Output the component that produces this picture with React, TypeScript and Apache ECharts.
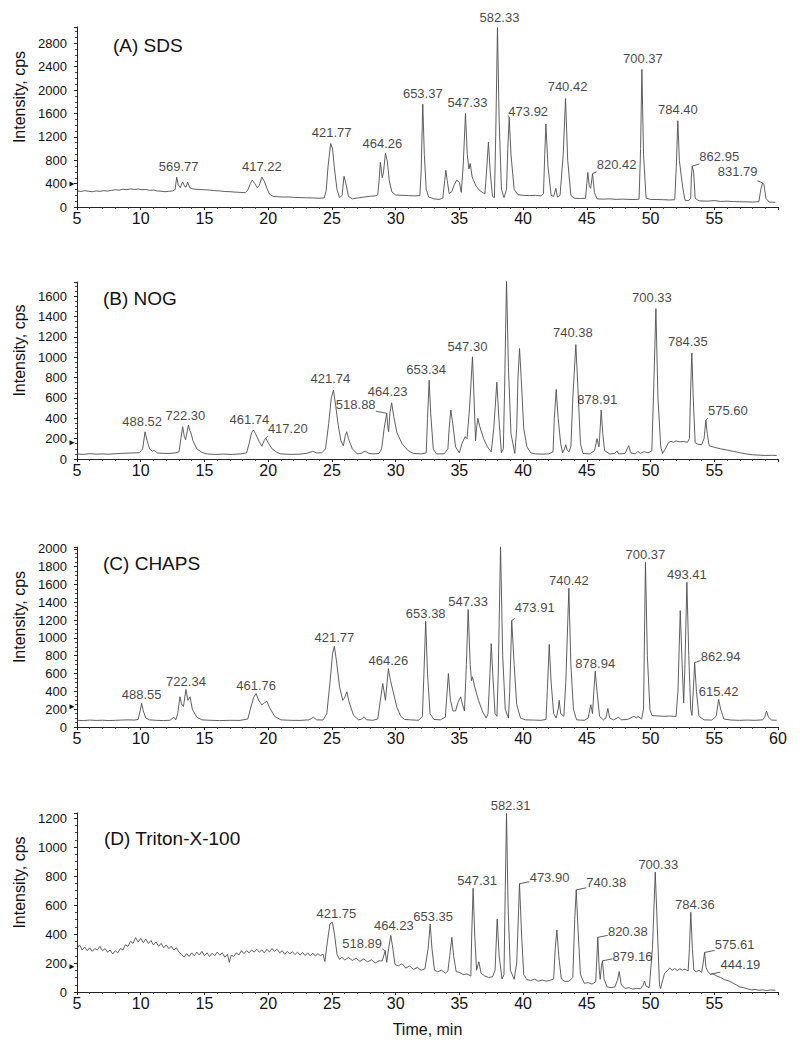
import React, { useEffect, useRef } from 'react';
import * as echarts from 'echarts';

const FONT = '"Liberation Sans", Arial, Helvetica, sans-serif';

// ---------- Data (time in min, intensity in cps) ----------
const SDS_TRACE: [number, number][] = [
  [5.0,275],[5.3,265],[5.6,280],[5.9,270],[6.2,262],[6.5,275],[6.8,268],[7.1,280],[7.4,272],[7.7,285],[8.0,295],[8.3,288],[8.6,305],[8.9,298],[9.2,310],[9.5,300],[9.8,308],[10.1,295],[10.4,300],[10.7,285],[11.0,290],[11.3,275],[11.6,270],[11.9,262],[12.2,268],[12.5,275],
  [12.7,300],[12.82,510],[12.95,380],[13.1,330],[13.29,430],[13.45,350],[13.55,340],[13.68,425],[13.85,330],[14.1,310],[14.5,300],[15.0,295],[15.4,290],[15.8,280],[16.2,275],[16.6,265],[17.0,262],[17.4,255],[17.8,250],[18.2,245],
  [18.4,290],[18.6,400],[18.75,460],[18.95,400],[19.15,330],[19.3,370],[19.5,510],[19.7,440],[19.9,320],[20.1,220],[20.4,180],[20.8,175],[21.2,170],[21.6,172],[22.0,165],[22.5,160],[23.0,158],[23.5,155],[24.0,150],[24.4,155],
  [24.55,280],[24.7,700],[24.9,1085],[25.05,1000],[25.2,650],[25.4,300],[25.6,160],[25.8,200],[25.95,525],[26.1,400],[26.3,180],[26.6,140],[27.0,155],[27.5,170],[28.0,185],[28.4,190],[28.6,210],
  [28.7,450],[28.8,765],[28.95,500],[29.05,600],[29.2,920],[29.35,780],[29.5,450],[29.7,260],[30.0,205],[30.5,200],[31.0,195],[31.5,190],[31.9,195],
  [32.0,600],[32.13,1760],[32.25,900],[32.4,300],[32.6,170],[33.0,140],[33.4,130],[33.7,150],
  [33.85,450],[33.94,628],[34.05,450],[34.2,230],[34.4,260],[34.6,380],[34.8,460],[35.0,420],[35.15,250],
  [35.3,700],[35.48,1600],[35.62,900],[35.75,650],[35.85,745],[36.0,520],[36.3,360],[36.6,280],[37.0,225],
  [37.1,500],[37.28,1110],[37.42,600],[37.6,180],[37.75,160],
  [37.85,1200],[37.99,3070],[38.12,1500],[38.3,300],[38.5,160],[38.7,300],
  [38.8,1000],[38.91,1533],[39.05,900],[39.3,300],[39.6,210],[40.0,200],[40.5,195],[41.0,200],[41.4,190],[41.6,230],
  [41.7,900],[41.79,1420],[41.95,700],[42.2,200],[42.4,180],[42.57,320],[42.7,170],[42.9,200],
  [43.15,900],[43.33,1856],[43.5,800],[43.75,200],[44.0,150],[44.5,145],[44.9,150],
  [45.0,400],[45.08,590],[45.2,350],[45.3,320],[45.45,570],[45.6,250],[45.8,140],[46.3,135],[46.8,140],[47.3,130],[47.8,135],[48.3,130],[48.8,128],[49.1,135],
  [49.22,1000],[49.32,2354],[49.45,900],[49.65,150],[50.0,130],[50.5,128],[51.0,125],[51.5,120],[51.9,125],
  [52.02,700],[52.14,1477],[52.26,800],[52.4,550],[52.55,300],[52.7,115],[53.0,110],[53.15,150],
  [53.2,500],[53.27,700],[53.38,600],[53.5,150],[53.8,105],[54.5,100],[55.0,110],[55.5,95],[56.0,100],[56.5,92],[57.0,90],[57.5,88],[58.0,85],[58.5,90],
  [58.65,300],[58.79,413],[58.9,380],[59.05,150],[59.3,85],[59.8,80],
];

const NOG_TRACE: [number, number][] = [
  [5.0,50],[5.5,45],[6.0,52],[6.5,48],[7.0,50],[7.5,47],[8.0,52],[8.5,55],[9.0,58],[9.5,60],[9.9,62],[10.15,100],[10.34,268],[10.5,180],[10.7,100],[10.9,75],[11.05,85],[11.3,60],[11.8,55],[12.3,55],[12.7,60],[13.0,70],
  [13.15,200],[13.29,317],[13.42,220],[13.52,190],[13.74,333],[13.85,280],[13.92,265],[14.1,180],[14.4,100],[14.8,65],[15.2,50],[15.8,45],[16.5,48],[17.2,45],[17.8,50],[18.3,60],
  [18.5,150],[18.7,260],[18.84,285],[19.0,250],[19.3,170],[19.5,125],[19.7,185],[19.81,205],[20.0,160],[20.3,100],[20.7,65],[21.0,50],[21.8,45],[22.5,48],[23.0,55],[23.5,75],[23.8,60],[24.2,60],[24.5,100],
  [24.75,350],[24.95,600],[25.12,677],[25.3,520],[25.5,330],[25.7,180],[25.9,130],[26.05,230],[26.16,268],[26.3,200],[26.6,100],[27.0,50],[27.3,55],[27.6,78],[27.9,55],[28.3,50],[28.7,55],[28.9,100],
  [29.1,300],[29.3,450],[29.4,300],[29.45,268],[29.55,450],[29.69,553],[29.85,420],[30.1,260],[30.5,150],[31.0,80],[31.4,55],[32.0,50],[32.4,60],
  [32.5,400],[32.63,775],[32.75,450],[32.95,100],[33.2,50],[33.8,50],[34.1,100],[34.2,300],[34.33,481],[34.45,380],[34.7,120],[35.0,60],[35.2,150],[35.45,219],[35.6,200],
  [35.8,500],[36.03,1004],[36.15,600],[36.27,180],[36.35,300],[36.45,400],[36.6,320],[36.9,200],[37.2,120],[37.5,70],
  [37.7,300],[37.94,755],[38.1,400],[38.3,60],[38.45,100],[38.55,700],
  [38.7,1757],[38.85,900],[39.05,250],[39.35,55],[39.5,300],[39.6,800],[39.72,1086],[39.85,800],[40.05,300],[40.3,120],[40.6,60],[41.0,50],[41.5,48],[42.0,50],[42.35,70],
  [42.45,400],[42.6,684],[42.75,400],[42.95,150],[43.1,60],[43.25,100],[43.35,140],[43.45,90],[43.6,70],[43.75,120],
  [43.9,600],[44.14,1125],[44.3,700],[44.5,150],[44.7,55],[45.2,50],[45.6,80],[45.8,200],[45.95,120],[46.0,200],[46.13,481],[46.25,250],[46.4,80],[46.8,50],[47.2,55],[47.36,80],[47.5,50],[48.0,55],[48.28,130],[48.45,60],[48.8,50],[49.0,75],[49.2,55],[49.5,72],[49.8,60],[50.1,80],
  [50.25,700],[50.42,1479],[50.58,600],[50.8,120],[50.95,55],[51.2,110],[51.4,160],[51.6,175],[51.8,165],[52.0,178],[52.3,168],[52.6,172],[52.9,165],[53.05,200],
  [53.15,700],[53.24,1043],[53.35,600],[53.5,160],[53.7,145],[54.0,140],[54.2,200],[54.34,383],[54.45,250],[54.6,130],[55.0,115],[55.5,100],[56.0,88],[56.5,75],[57.0,62],[57.5,50],[58.0,42],[58.5,38],[59.0,35],[59.5,36],[59.9,35],
];

const CHAPS_TRACE: [number, number][] = [
  [5.0,75],[5.5,72],[6.0,78],[6.5,74],[7.0,76],[7.5,72],[8.0,75],[8.5,78],[9.0,80],[9.5,78],[9.8,85],[9.95,180],[10.07,265],[10.2,180],[10.4,100],[10.7,80],[11.2,75],[11.8,72],[12.3,76],[12.6,110],[12.75,80],[12.9,150],
  [13.08,339],[13.2,260],[13.35,230],[13.55,420],[13.7,300],[13.87,339],[14.05,200],[14.4,110],[14.8,80],[15.5,75],[16.2,72],[17.0,75],[17.8,74],[18.4,90],
  [18.6,200],[18.85,330],[19.05,376],[19.25,300],[19.5,248],[19.7,270],[19.89,290],[20.1,220],[20.5,120],[21.0,80],[21.8,75],[22.5,74],[23.2,80],[23.55,110],[23.8,80],[24.3,78],[24.6,150],
  [24.85,500],[25.05,820],[25.19,905],[25.35,750],[25.6,450],[25.85,300],[26.0,330],[26.17,395],[26.35,280],[26.7,130],[27.1,80],[27.35,90],[27.53,115],[27.7,82],[28.2,75],[28.6,90],[28.8,300],
  [28.99,488],[29.2,300],[29.43,655],[29.6,520],[29.8,400],[30.1,220],[30.4,120],[30.7,85],[31.2,80],[31.8,75],[32.1,120],
  [32.22,600],[32.36,1188],[32.5,600],[32.7,150],[33.0,85],[33.5,80],[33.9,110],[34.14,600],[34.3,300],[34.5,180],[34.7,180],[34.9,280],[35.1,339],[35.25,250],[35.4,180],
  [35.55,700],[35.69,1318],[35.85,700],[35.95,520],[36.03,562],[36.2,450],[36.5,300],[36.8,180],[37.1,100],[37.25,150],
  [37.4,600],[37.5,935],[37.62,600],[37.8,150],[37.95,120],[38.05,600],
  [38.23,2022],[38.4,800],[38.6,200],[38.85,100],[38.95,400],[39.11,1195],[39.3,700],[39.5,250],[39.8,100],[40.2,80],[40.8,78],[41.4,75],[41.8,85],
  [41.9,400],[42.05,927],[42.2,500],[42.4,150],[42.6,100],[42.75,200],[42.83,300],[42.95,150],[43.2,120],[43.35,500],
  [43.59,1557],[43.75,700],[43.95,200],[44.2,80],[44.8,75],[45.1,100],[45.31,250],[45.45,150],[45.55,400],[45.66,626],[45.8,400],[46.0,120],[46.3,80],[46.5,100],[46.65,209],[46.8,100],[47.1,80],[47.5,110],[47.7,80],[48.2,85],[48.7,120],[48.9,100],[49.0,120],[49.3,90],[49.45,200],
  [49.6,1847],[49.75,800],[49.95,200],[50.1,130],[50.5,125],[51.0,120],[51.5,123],[52.0,118],[52.15,400],
  [52.33,1307],[52.48,700],[52.6,268],[52.7,700],[52.85,1624],[53.0,800],[53.15,200],[53.25,130],[53.35,400],[53.46,723],[53.6,400],[53.8,120],[54.2,80],[54.8,78],[55.15,120],[55.34,309],[55.5,200],[55.75,90],[56.3,78],[57.0,75],[57.6,78],[58.2,75],[58.8,80],[58.95,110],[59.1,179],[59.25,110],[59.5,78],[59.9,75],
];

const TRITON_TRACE: [number, number][] = [
  [5.0,300],[5.2,325],[5.4,290],[5.6,310],[5.8,285],[6.0,305],[6.2,280],[6.4,300],[6.6,290],[6.8,315],[7.0,285],[7.2,300],[7.4,275],[7.6,290],[7.8,262],[8.0,285],[8.2,270],[8.4,300],[8.6,290],[8.8,325],[9.0,315],[9.2,350],[9.4,335],[9.6,375],[9.8,345],[10.0,370],[10.2,340],[10.4,365],[10.6,335],[10.8,355],[11.0,325],[11.2,345],[11.4,315],[11.6,335],[11.8,305],[12.0,325],[12.2,300],[12.4,315],[12.6,290],[12.8,305],[13.0,275],[13.2,260],[13.4,240],[13.6,265],[13.8,245],[14.0,270],[14.2,250],[14.4,275],[14.6,255],[14.8,280],[15.0,250],[15.2,270],[15.4,245],[15.6,268],[15.8,250],[16.0,275],[16.2,255],[16.4,270],[16.6,240],[16.8,260],[16.95,205],[17.1,255],[17.3,245],[17.5,270],[17.7,255],[17.9,285],[18.1,265],[18.3,285],[18.5,270],[18.7,290],[18.9,275],[19.1,295],[19.3,275],[19.5,290],[19.7,270],[19.9,295],[20.1,275],[20.3,300],[20.5,280],[20.7,295],[20.9,270],[21.1,285],[21.3,260],[21.5,280],[21.7,262],[21.9,278],[22.1,258],[22.3,275],[22.5,255],[22.7,272],[22.9,252],[23.1,270],[23.3,250],[23.5,268],[23.7,248],[23.9,265],[24.1,250],[24.3,262],[24.45,210],
  [24.65,350],[24.85,470],[25.04,481],[25.2,400],[25.4,260],[25.6,225],[25.8,240],[26.0,220],[26.3,238],[26.6,218],[26.9,232],[27.2,212],[27.5,228],[27.8,208],[28.1,222],[28.4,200],[28.7,215],[28.95,215],[29.18,284],[29.3,205],[29.45,300],[29.62,390],[29.78,300],[29.95,190],[30.2,180],[30.5,195],[30.8,165],[31.1,180],[31.4,155],[31.7,170],[32.0,150],[32.3,160],
  [32.55,300],[32.71,469],[32.85,300],[33.05,150],[33.3,140],[33.6,150],[33.9,130],[34.1,145],[34.25,250],[34.41,377],[34.55,250],[34.75,140],[35.0,135],[35.3,120],[35.6,125],[35.9,110],
  [35.97,400],[36.08,716],[36.2,400],[36.35,150],[36.53,208],[36.7,130],[37.0,110],[37.3,100],[37.6,105],[37.8,150],[37.97,504],[38.12,250],[38.35,90],[38.5,120],[38.6,700],[38.7,1232],[38.82,600],[39.0,150],[39.3,88],[39.5,200],[39.72,747],[39.88,400],[40.05,120],[40.3,85],[40.6,80],[40.9,88],[41.2,75],[41.5,82],[41.8,75],[42.1,80],[42.4,90],
  [42.52,300],[42.65,428],[42.8,250],[43.0,90],[43.3,72],[43.6,75],[43.9,100],[44.05,500],[44.17,705],[44.3,450],[44.5,120],[44.8,60],[45.1,65],[45.4,55],[45.7,70],[45.86,377],[45.98,150],[46.05,88],[46.15,180],[46.23,215],[46.35,90],[46.6,35],[46.9,30],[47.2,35],[47.4,80],[47.54,141],[47.7,50],[48.0,25],[48.3,30],[48.6,20],[48.9,25],[49.2,22],[49.4,45],[49.53,76],[49.65,40],[49.9,30],
  [50.15,300],[50.37,827],[50.55,400],[50.7,50],[50.78,23],[50.95,80],[51.1,130],[51.3,146],[51.5,165],[51.7,150],[51.9,162],[52.1,148],[52.3,160],[52.5,150],[52.7,158],[52.95,145],[53.05,300],[53.16,550],[53.28,300],[53.4,150],[53.6,140],[53.8,150],[54.0,135],[54.13,200],[54.24,273],[54.35,170],[54.5,140],[54.7,123],[54.9,125],[55.2,110],[55.5,100],[55.8,85],[56.1,78],[56.4,65],[56.7,50],[57.0,35],[57.3,30],[57.6,22],[57.9,15],[58.2,18],[58.5,12],[58.8,15],[59.1,10],[59.4,14],[59.8,12],
];

// Peak annotations: [time, intensity, m/z label]
const SDS_PEAKS: [number, number, string][] = [
  [12.82,510,'569.77'],[19.5,510,'417.22'],[24.9,1085,'421.77'],[29.2,920,'464.26'],[32.13,1760,'653.37'],[35.48,1600,'547.33'],[37.99,3070,'582.33'],[38.91,1533,'473.92'],[43.33,1856,'740.42'],[45.45,570,'820.42'],[49.32,2354,'700.37'],[52.14,1477,'784.40'],[53.27,700,'862.95'],[58.79,413,'831.79'],
];
const NOG_PEAKS: [number, number, string][] = [
  [10.34,268,'488.52'],[13.74,333,'722.30'],[18.84,285,'461.74'],[19.81,205,'417.20'],[25.12,677,'421.74'],[29.3,450,'518.88'],[29.69,553,'464.23'],[32.63,775,'653.34'],[36.03,1004,'547.30'],[38.7,1757,'582.30'],[44.14,1125,'740.38'],[46.13,481,'878.91'],[50.42,1479,'700.33'],[53.24,1043,'784.35'],[54.34,383,'575.60'],
];
const CHAPS_PEAKS: [number, number, string][] = [
  [10.07,265,'488.55'],[13.55,420,'722.34'],[19.05,376,'461.76'],[25.19,905,'421.77'],[29.43,655,'464.26'],[32.36,1188,'653.38'],[35.69,1318,'547.33'],[38.23,2022,'582.33'],[39.11,1195,'473.91'],[43.59,1557,'740.42'],[45.66,626,'878.94'],[49.6,1847,'700.37'],[52.85,1624,'493.41'],[53.46,723,'862.94'],[55.34,309,'615.42'],
];
const TRITON_PEAKS: [number, number, string][] = [
  [25.04,481,'421.75'],[29.18,284,'518.89'],[29.62,390,'464.23'],[32.71,469,'653.35'],[36.08,716,'547.31'],[38.7,1232,'582.31'],[39.72,747,'473.90'],[44.17,705,'740.38'],[45.86,377,'820.38'],[46.23,215,'879.16'],[50.37,827,'700.33'],[53.16,550,'784.36'],[54.24,273,'575.61'],[54.7,123,'444.19'],
];

// Label offsets in pixels relative to the peak apex (layout, not data)
const SDS_OFF = [[2,-11],[0,-11],[1,-11],[-3,-10],[0,-11],[2,-11],[2,-10],[19,-6],[2,-12],[24,-9],[1,-11],[0,-11],[27,-10],[-25,-11]];
const NOG_OFF = [[-3,-10],[-3,-10],[-4,-11],[22,-10],[-3,-12],[-31,-9],[-4,-11],[-3,-11],[-5,-10],[-4,-11],[-3,-12],[-4,-11],[-4,-11],[-4,-11],[22,-10]];
const CHAPS_OFF = [[0,-9],[0,-8],[0,-8],[0,-9],[0,-8],[0,-8],[0,-8],[0,-8],[23,-13],[0,-8],[0,-8],[0,-8],[0,-8],[26,-6],[0,-8]];
const TRITON_OFF = [[4,-9],[-23,-7],[3,-10],[3,-8],[4,-8],[4,-8],[30,-6],[30,-7],[30,-6],[30,-4],[3,-8],[4,-8],[30,-8],[30,-10]];

const PANEL_TITLES = ['(A) SDS', '(B) NOG', '(C) CHAPS', '(D) Triton-X-100'];
const Y_MAX = [3080, 1740, 2020, 1235];
const Y_INTERVAL = [400, 200, 200, 200];
const MARKER_LEVEL = [394, 160, 228, 175];

// ---------- Layout ----------
const GRID_TOPS = [27, 282, 547, 813];
const GRID_HEIGHTS = [180, 177, 180, 179];
const TITLE_POS = [[113, 36], [103, 289], [103, 554], [104, 829]];

export default function App() {
  const ref = useRef<HTMLDivElement>(null);
  useEffect(() => {
    if (!ref.current) return;
    const chart = echarts.init(ref.current, undefined, { renderer: 'svg' });
    const traces = [SDS_TRACE, NOG_TRACE, CHAPS_TRACE, TRITON_TRACE];
    const peaks = [SDS_PEAKS, NOG_PEAKS, CHAPS_PEAKS, TRITON_PEAKS];
    const offs = [SDS_OFF, NOG_OFF, CHAPS_OFF, TRITON_OFF];

    const grids = GRID_TOPS.map((top, i) => ({ left: 77, right: 22, top, height: GRID_HEIGHTS[i] }));
    const xAxes = grids.map((_, i) => ({
      type: 'value', gridIndex: i, min: 5, max: 60, interval: 5,
      axisLine: { onZero: false, lineStyle: { color: '#222', width: 1 } },
      axisTick: { show: true, length: 3, lineStyle: { color: '#222' } },
      minorTick: { show: true, splitNumber: 5, length: 2, lineStyle: { color: '#444' } },
      splitLine: { show: false },
      axisLabel: { fontSize: 16, color: '#111', fontFamily: FONT, margin: 3, showMaxLabel: i === 2, formatter: (v: number) => String(v) },
      name: i === 3 ? 'Time, min' : '',
      nameLocation: 'middle', nameGap: 29,
      nameTextStyle: { fontSize: 16, color: '#111', fontFamily: FONT },
    }));
    const yAxes = grids.map((_, i) => ({
      type: 'value', gridIndex: i, min: 0, max: Y_MAX[i], interval: Y_INTERVAL[i],
      axisLine: { show: true, lineStyle: { color: '#222', width: 1 } },
      axisTick: { show: true, length: 3, lineStyle: { color: '#222' } },
      minorTick: { show: true, splitNumber: 4, length: 2, lineStyle: { color: '#444' } },
      splitLine: { show: false },
      axisLabel: { fontSize: 13, color: '#111', fontFamily: FONT, margin: 10, showMaxLabel: false, formatter: (v: number) => String(v) },
      name: 'Intensity, cps', nameLocation: 'middle', nameGap: 49,
      nameTextStyle: { fontSize: 16, color: '#111', fontFamily: FONT, padding: [0, 0, 0, 40] },
    }));
    const series: any[] = [];
    traces.forEach((tr, i) => {
      series.push({
        type: 'line', xAxisIndex: i, yAxisIndex: i, data: tr, showSymbol: false, symbol: 'none',
        lineStyle: { color: '#4d4d4d', width: 0.9 }, z: 2,
        markPoint: {
          silent: true, symbol: 'triangle', symbolSize: [5, 5], symbolRotate: -90, symbolOffset: [-5, 0],
          itemStyle: { color: '#111' }, label: { show: false },
          data: [{ coord: [5, MARKER_LEVEL[i]] }],
        },
      });
      series.push({
        type: 'scatter', xAxisIndex: i, yAxisIndex: i, symbolSize: 1, z: 5, silent: true,
        itemStyle: { color: 'rgba(0,0,0,0)' },
        label: { show: true, position: 'inside', fontSize: 13, color: '#111', fontFamily: FONT, formatter: '{b}' },
        data: peaks[i].map((p, k) => ({ name: p[2], value: [p[0], p[1]], label: { offset: offs[i][k] } })),
      });
    });

    chart.setOption({
      animation: false,
      backgroundColor: '#fff',
      title: PANEL_TITLES.map((t, i) => ({
        text: t, left: TITLE_POS[i][0], top: TITLE_POS[i][1], padding: 0,
        textStyle: { fontSize: 19, fontWeight: 'normal', color: '#111', fontFamily: FONT },
      })),
      grid: grids,
      xAxis: xAxes,
      yAxis: yAxes,
      series,
    });

    // leader lines for labels displaced sideways
    const graphics: any[] = [];
    peaks.forEach((list, gi) => {
      list.forEach((p, k) => {
        const off = offs[gi][k];
        if (Math.abs(off[0]) < 15) return;
        const pt = chart.convertToPixel({ gridIndex: gi } as any, [p[0], p[1]]) as number[];
        const s = Math.sign(off[0]);
        graphics.push({
          type: 'line', silent: true,
          shape: { x1: pt[0], y1: pt[1], x2: pt[0] + off[0] - s * 20, y2: pt[1] - 2 },
          style: { stroke: '#333', lineWidth: 0.8 },
        });
      });
    });
    chart.setOption({ graphic: graphics });

    return () => chart.dispose();
  }, []);
  return <div ref={ref} style={{ position: 'absolute', left: 0, top: 0, width: 800, height: 1043 }} />;
}
